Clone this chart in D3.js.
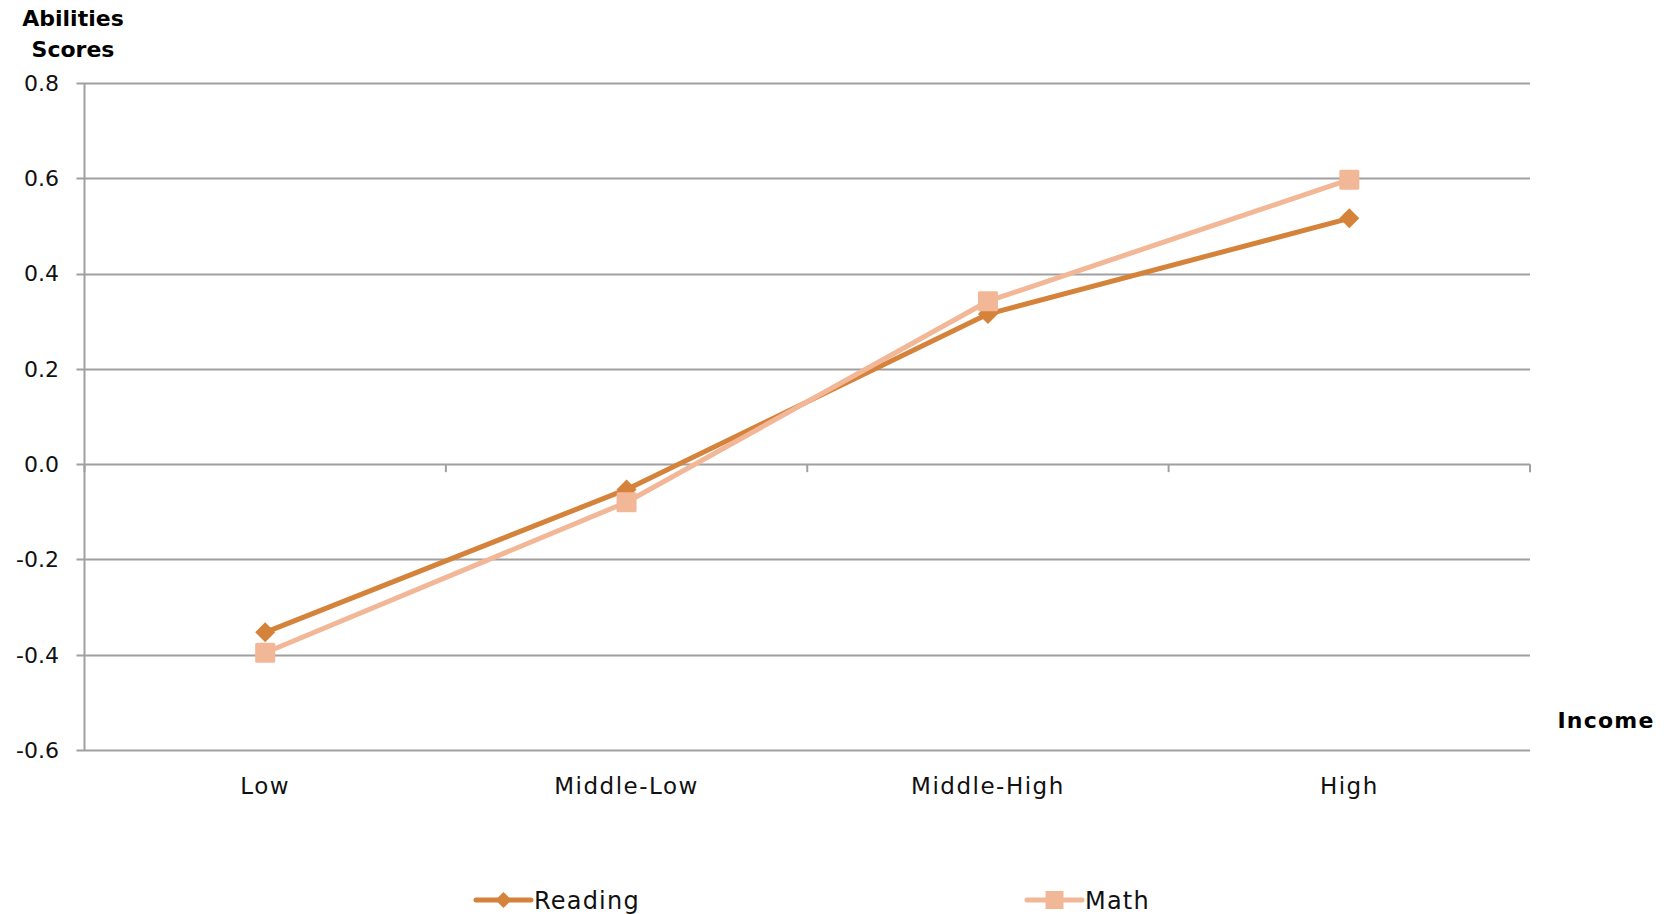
<!DOCTYPE html>
<html><head><meta charset="utf-8">
<script src="https://cdn.jsdelivr.net/npm/d3@7"></script>
<style>body{margin:0;background:#fff;}svg{display:block;font-family:"DejaVu Sans",sans-serif;}</style>
</head><body>
<script>
const categories = ["Low", "Middle-Low", "Middle-High", "High"];
const reading = [-0.353, -0.053, 0.315, 0.516];
const math = [-0.396, -0.08, 0.342, 0.597];
const yTicks = [-0.6, -0.4, -0.2, 0.0, 0.2, 0.4, 0.6, 0.8];
const seriesNames = ["Reading", "Math"];
const colors = ["#D5823A", "#F2B797"];

(function(){
const W = 1675, H = 914;
const svg = d3.select("body").append("svg").attr("width", W).attr("height", H);
const pLeft = 84.5, pRight = 1530, pTop = 83, pBottom = 750;
const x = d3.scaleBand().domain(categories).range([pLeft, pRight]);
const y = d3.scaleLinear().domain([-0.6, 0.8]).range([pBottom, pTop]);

// gridlines
svg.append("g").selectAll("line").data(yTicks).join("line")
  .attr("x1", pLeft - 8).attr("x2", pRight)
  .attr("y1", d => Math.round(y(d)) + 0.5).attr("y2", d => Math.round(y(d)) + 0.5)
  .attr("stroke", "#a0a0a0").attr("stroke-width", 2);
// y axis line
svg.append("line").attr("x1", pLeft).attr("x2", pLeft).attr("y1", pTop).attr("y2", pBottom)
  .attr("stroke", "#a0a0a0").attr("stroke-width", 2);
// y tick labels
svg.append("g").selectAll("text").data(yTicks).join("text")
  .attr("x", 59).attr("y", d => y(d)).attr("dy", "0.36em")
  .attr("text-anchor", "end").attr("font-size", 22).attr("fill", "#111")
  .text(d => d3.format(".1f")(d).replace("−", "-"));
// x axis ticks at zero line
const bounds = categories.map(c => x(c)).concat([pRight]);
svg.append("g").selectAll("line").data(bounds).join("line")
  .attr("x1", d => d).attr("x2", d => d)
  .attr("y1", y(0)).attr("y2", y(0) + 8)
  .attr("stroke", "#a0a0a0").attr("stroke-width", 2);
// x labels
svg.append("g").selectAll("text").data(categories).join("text")
  .attr("x", d => x(d) + x.bandwidth() / 2).attr("y", 786).attr("dy", "0.36em")
  .attr("text-anchor", "middle").attr("font-size", 23).attr("letter-spacing", 1.5).attr("fill", "#111")
  .text(d => d);

// titles
svg.append("text").attr("x", 73).attr("y", 18).attr("dy", "0.36em").attr("text-anchor", "middle")
  .attr("font-size", 22).attr("font-weight", "bold").text("Abilities");
svg.append("text").attr("x", 73).attr("y", 49).attr("dy", "0.36em").attr("text-anchor", "middle")
  .attr("font-size", 22).attr("font-weight", "bold").text("Scores");
svg.append("text").attr("x", 1606).attr("y", 720).attr("dy", "0.36em").attr("text-anchor", "middle")
  .attr("font-size", 22).attr("letter-spacing", 1.2).attr("font-weight", "bold").text("Income");

const cx = c => x(c) + x.bandwidth() / 2;
const line = d3.line().x((d, i) => cx(categories[i])).y(d => y(d));
const allSeries = [reading, math];

function marker(g, type, color) {
  if (type === 0) {
    g.append("path").attr("d", "M0,-10L10,0L0,10L-10,0Z").attr("fill", color);
  } else {
    g.append("rect").attr("x", -10).attr("y", -10).attr("width", 20).attr("height", 20).attr("rx", 1.5).attr("fill", color);
  }
}

allSeries.forEach((s, k) => {
  svg.append("path").datum(s).attr("d", line).attr("fill", "none")
    .attr("stroke", colors[k]).attr("stroke-width", 5).attr("stroke-linejoin", "round");
});
allSeries.forEach((s, k) => {
  s.forEach((v, i) => {
    const g = svg.append("g").attr("transform", `translate(${cx(categories[i])},${y(v)})`);
    marker(g, k, colors[k]);
  });
});

// legend
const legendX = [476, 1027];
seriesNames.forEach((n, k) => {
  const g = svg.append("g").attr("transform", `translate(${legendX[k]},900)`);
  g.append("line").attr("x1", 0).attr("x2", 55).attr("y1", 0).attr("y2", 0)
    .attr("stroke", colors[k]).attr("stroke-width", 5).attr("stroke-linecap", "round");
  const m = g.append("g").attr("transform", "translate(27.5,0)");
  if (k === 0) m.append("path").attr("d", "M0,-8L8,0L0,8L-8,0Z").attr("fill", colors[k]);
  else m.append("rect").attr("x", -9).attr("y", -9).attr("width", 18).attr("height", 18).attr("fill", colors[k]);
  g.append("text").attr("x", 58).attr("y", 0).attr("dy", "0.36em").attr("font-size", 24).attr("letter-spacing", 1.2).attr("fill", "#111").text(n);
});
})();
</script>
</body></html>
